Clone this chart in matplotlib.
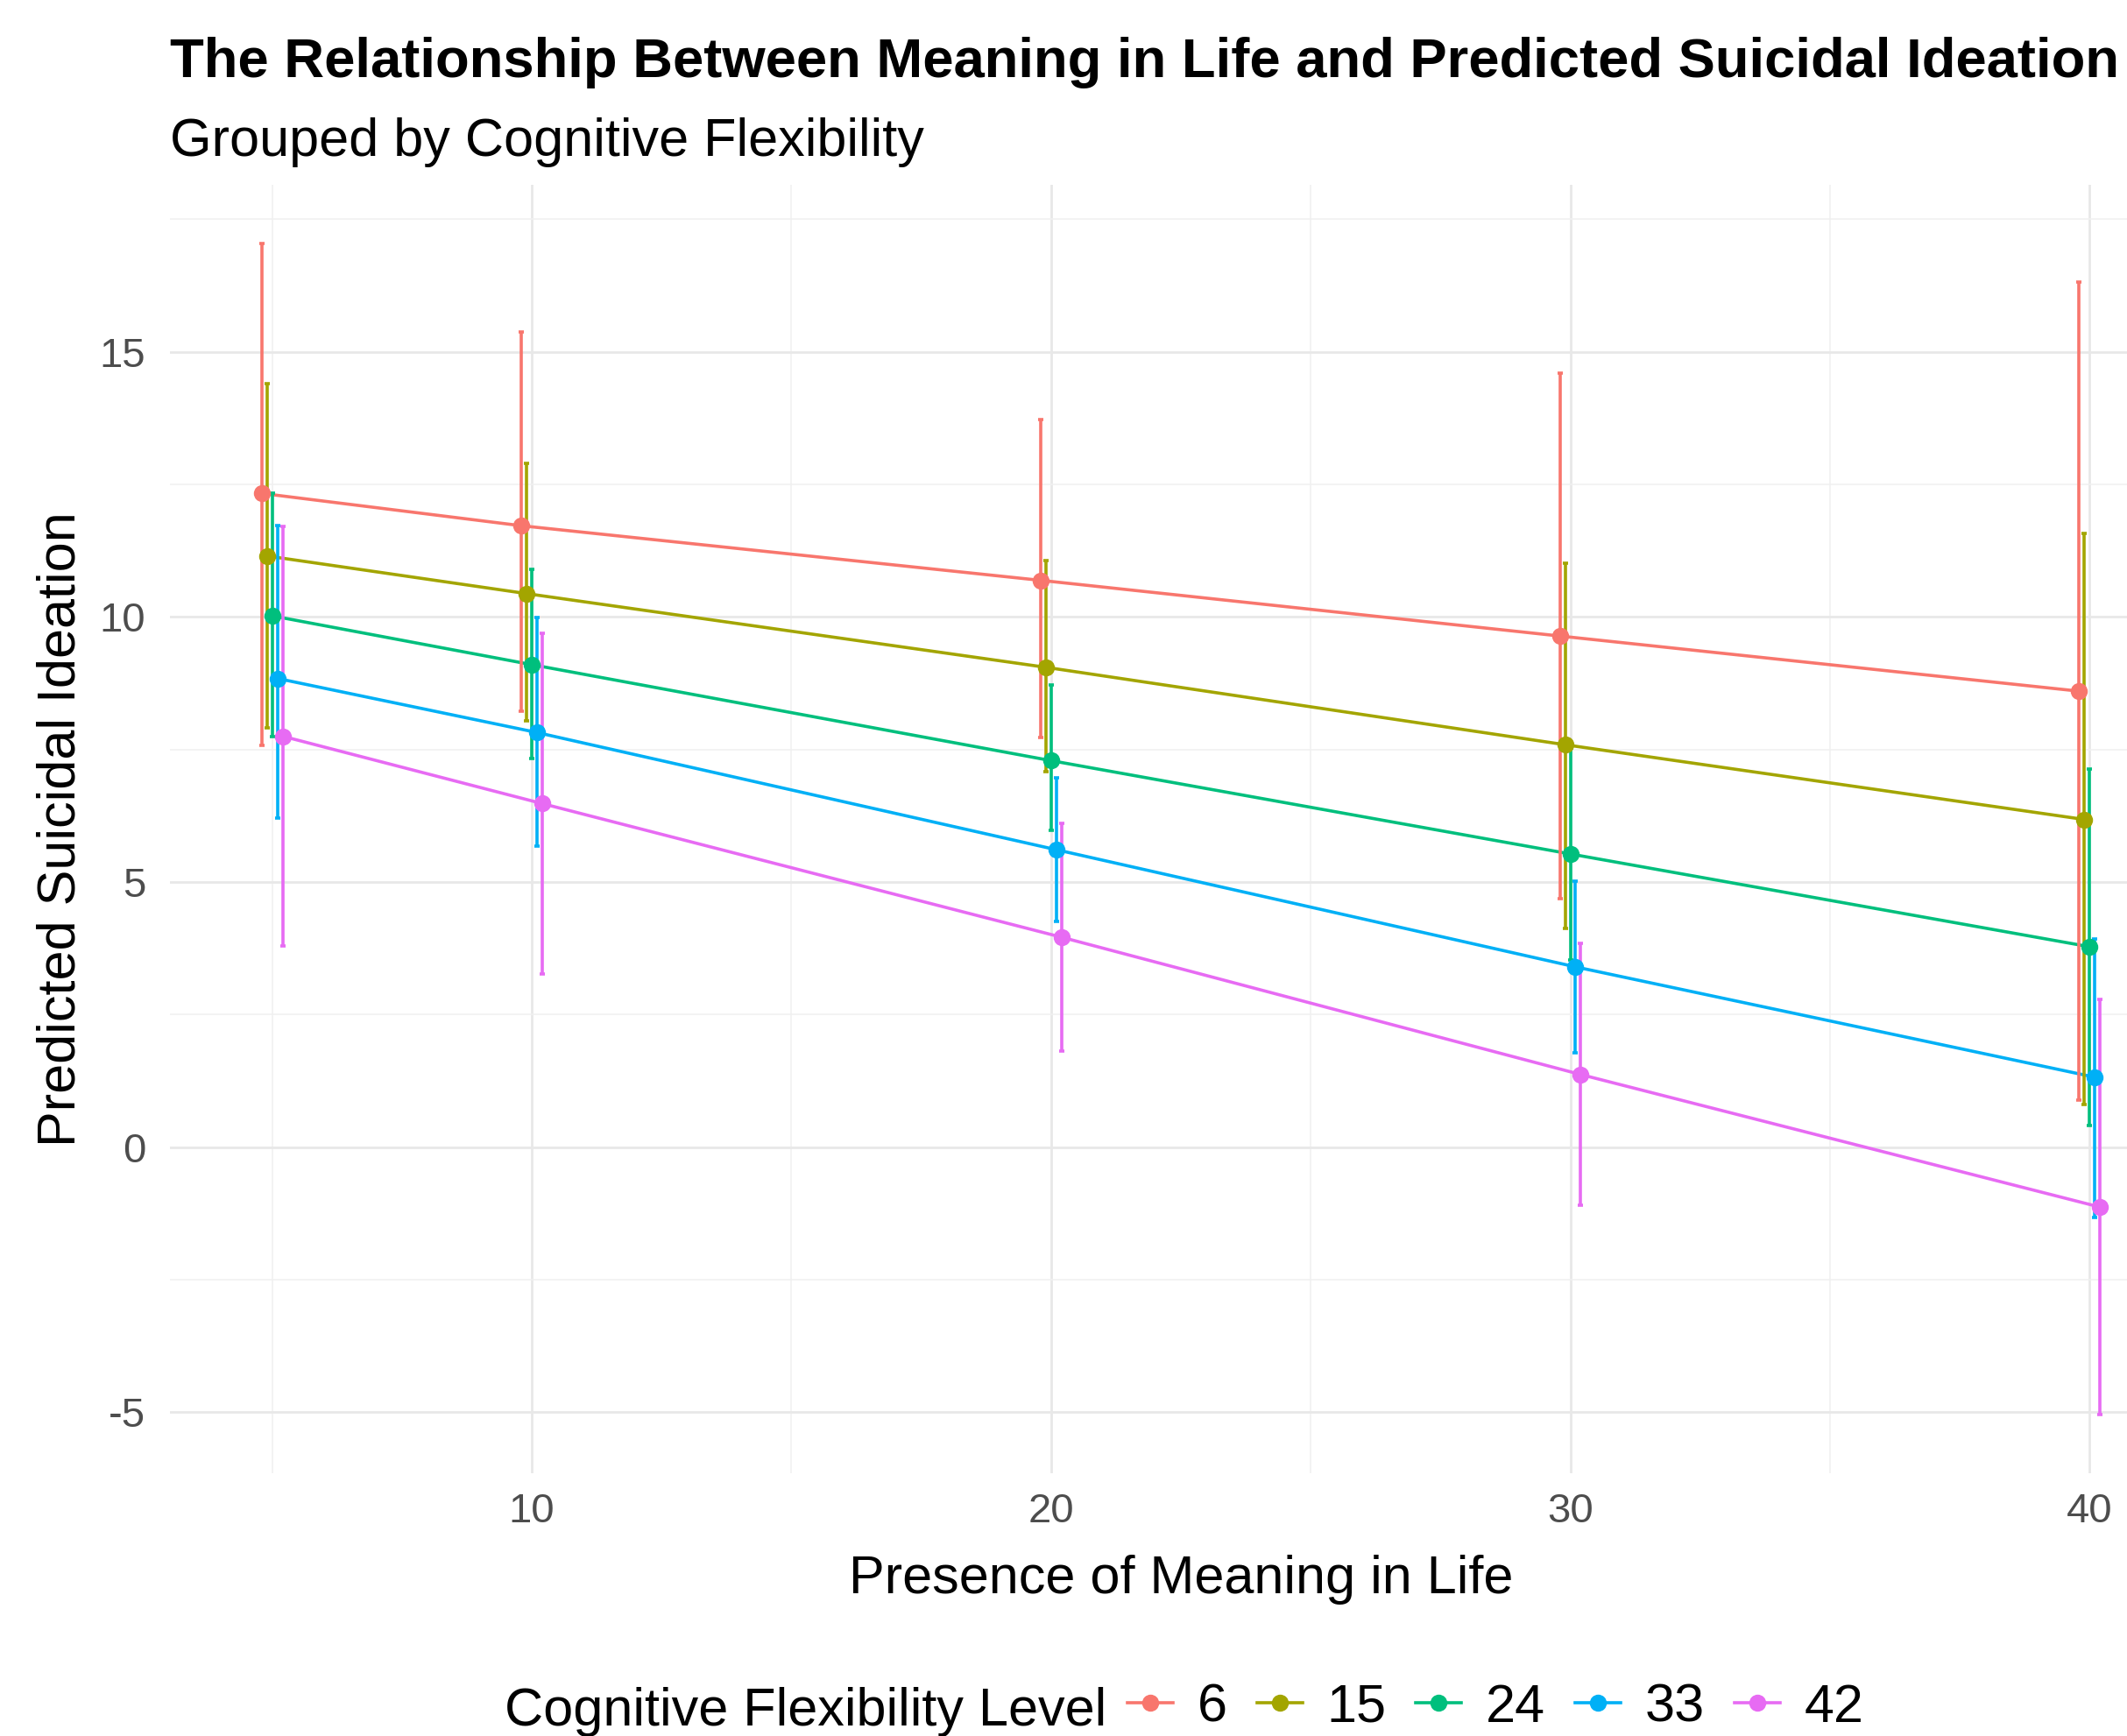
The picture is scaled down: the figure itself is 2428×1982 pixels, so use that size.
import numpy as np
import matplotlib
matplotlib.use('Agg')
import matplotlib.pyplot as plt
from matplotlib.lines import Line2D

plt.rcParams['font.family'] = ['Liberation Sans', 'DejaVu Sans']
plt.rcParams['axes.unicode_minus'] = False

# ---------------- data ----------------
meaning = [5, 10, 20, 30, 40]
flex_levels = ['6', '15', '24', '33', '42']

pred_6 = [12.33, 11.72, 10.69, 9.64, 8.60]
pred_15 = [11.15, 10.44, 9.05, 7.59, 6.18]
pred_24 = [10.02, 9.10, 7.29, 5.53, 3.78]
pred_33 = [8.84, 7.82, 5.61, 3.40, 1.32]
pred_42 = [7.75, 6.48, 3.96, 1.37, -1.13]

low_6 = [7.57, 8.23, 7.72, 4.69, 0.88]
low_15 = [7.90, 8.04, 7.08, 4.13, 0.81]
low_24 = [7.75, 7.33, 5.98, 3.53, 0.40]
low_33 = [6.20, 5.68, 4.25, 1.78, -1.32]
low_42 = [3.79, 3.27, 1.82, -1.09, -5.05]

high_6 = [17.05, 15.37, 13.73, 14.60, 16.32]
high_15 = [14.40, 12.90, 11.07, 11.02, 11.57]
high_24 = [12.33, 10.90, 8.72, 7.53, 7.13]
high_33 = [11.72, 9.99, 6.97, 5.02, 3.93]
high_42 = [11.70, 9.70, 6.10, 3.85, 2.79]

preds = [pred_6, pred_15, pred_24, pred_33, pred_42]
lows = [low_6, low_15, low_24, low_33, low_42]
highs = [high_6, high_15, high_24, high_33, high_42]

colors = ['#F8766D', '#A3A500', '#00BF7D', '#00B0F6', '#E76BF3']

# ---------------- figure ----------------
W, H, DPI = 2428, 1982, 200
fig = plt.figure(figsize=(W / DPI, H / DPI), dpi=DPI)
fig.patch.set_facecolor('white')

px_left, px_right, px_top, px_bottom = 194, 2502, 211, 1682
ax = fig.add_axes([px_left / W, 1 - px_bottom / H,
                   (px_right - px_left) / W, (px_bottom - px_top) / H])

dodge = np.linspace(-0.2, 0.2, len(flex_levels))
xs_all = [np.array(meaning) + d for d in dodge]

LW = 1.3
# lines
for xs, p, c in zip(xs_all, preds, colors):
    ax.plot(xs, p, color=c, lw=LW, zorder=3, solid_capstyle='butt')
# error bars
for xs, p, lo, hi, c in zip(xs_all, preds, lows, highs, colors):
    p = np.array(p)
    yerr = np.vstack([p - np.array(lo), np.array(hi) - p])
    ax.errorbar(xs, p, yerr=yerr, fmt='none', ecolor=c, elinewidth=LW,
                capsize=1.0, capthick=LW, zorder=4)
# points
for xs, p, c in zip(xs_all, preds, colors):
    ax.plot(xs, p, 'o', color=c, ms=7, mec='none', zorder=5)

ax.set_xlim(3.03, 41.97)
ax.set_ylim(-6.15, 18.15)

ax.set_xticks([10, 20, 30, 40])
ax.set_xticks([5, 15, 25, 35], minor=True)
ax.set_yticks([-5, 0, 5, 10, 15])
ax.set_yticks([-2.5, 2.5, 7.5, 12.5, 17.5], minor=True)
ax.set_yticklabels(['-5', '0', '5', '10', '15'])

ax.grid(which='major', color='#E8E8E8', lw=1.0, zorder=0)
ax.grid(which='minor', color='#F0F0F0', lw=0.55, zorder=0)
ax.set_axisbelow(True)
for s in ax.spines.values():
    s.set_visible(False)
ax.tick_params(which='both', length=0)
ax.tick_params(axis='x', labelsize=17, labelcolor='#4D4D4D', pad=8)
ax.tick_params(axis='y', labelsize=17, labelcolor='#4D4D4D', pad=10)

# titles and axis labels
fig.text(px_left / W, 1 - 88 / H,
         'The Relationship Between Meaning in Life and Predicted Suicidal Ideation',
         fontsize=22.8, fontweight='bold', ha='left', va='baseline', color='black')
fig.text(px_left / W, 1 - 178 / H, 'Grouped by Cognitive Flexibility',
         fontsize=22, ha='left', va='baseline', color='black')
fig.text((px_left + px_right) / 2 / W, 1 - 1819 / H, 'Presence of Meaning in Life',
         fontsize=22, ha='center', va='baseline', color='black')
fig.text(70 / W, 1 - (px_top + px_bottom) / 2 / H, 'Predicted Suicidal Ideation',
         fontsize=22, ha='center', va='center', rotation=90, color='black')

# legend
fig.text(576 / W, 1 - 1970 / H, 'Cognitive Flexibility Level',
         fontsize=22, ha='left', va='baseline', color='black')
handles = [Line2D([0], [0], color=c, lw=LW, marker='o', ms=7, mec='none')
           for c in colors]
fig.legend(handles, flex_levels, loc='center left',
           bbox_to_anchor=(1287 / W, 1 - 1950 / H), ncol=5, frameon=False,
           fontsize=22, handlelength=0.85, handletextpad=0.45, columnspacing=0.56,
           borderpad=0, borderaxespad=0)

fig.savefig('out.png', dpi=DPI, facecolor='white')
